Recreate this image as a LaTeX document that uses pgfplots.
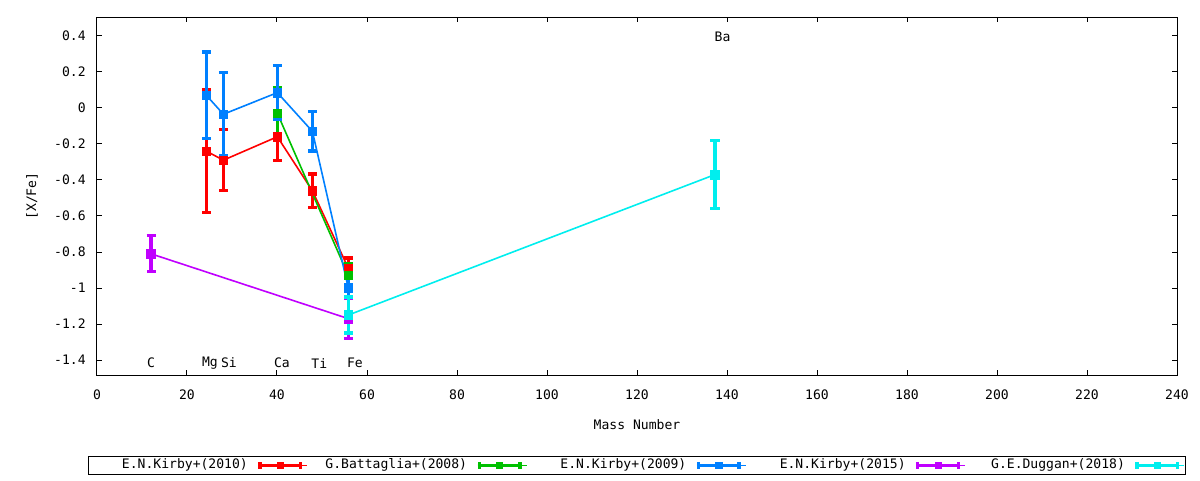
\documentclass[border=0pt]{standalone}
\usepackage{fontspec}
\setmainfont{DejaVu Sans Mono}
\usepackage{pgfplots}
\usepackage{pgfplotstable}
\pgfplotsset{compat=1.18}

\definecolor{gpred}{HTML}{FF0000}
\definecolor{gpgreen}{HTML}{00C000}
\definecolor{gpblue}{HTML}{0080FF}
\definecolor{gppurple}{HTML}{C000FF}
\definecolor{gpcyan}{HTML}{00EEEE}

% mass number, [X/Fe], error
\pgfplotstableread{
x y e
24.305 -0.24 0.34
28.086 -0.29 0.17
40.078 -0.16 0.13
47.867 -0.46 0.093
55.845 -0.89 0.057
}\kirbyten
\pgfplotstableread{
x y e
40.078 -0.03 0.14
55.845 -0.93 0.065
}\battaglia
\pgfplotstableread{
x y e
24.305 0.07 0.24
28.086 -0.035 0.23
40.078 0.085 0.15
47.867 -0.13 0.11
55.845 -1.0 0.06
}\kirbynine
\pgfplotstableread{
x y e
12.011 -0.81 0.10
55.845 -1.17 0.11
}\kirbyfifteen
\pgfplotstableread{
x y e
55.845 -1.15 0.10
137.33 -0.37 0.19
}\duggan

\pgfplotsset{
  gp/.style={
    color=#1, line width=1.2pt,
    mark=square*, mark size=3.2pt, mark options={solid, line width=0.5pt},
    error bars/.cd, y dir=both, y explicit,
    error bar style={line width=2.5pt},
    error mark options={rotate=90, line width=2.5pt, mark size=3.4pt},
  },
}

\begin{document}
\fontsize{9.8pt}{11.8pt}\selectfont
\begin{tikzpicture}
\path[use as bounding box] (-72.75pt,-78.75pt) rectangle (827.25pt,281.25pt);
\begin{axis}[
    at={(0pt,0pt)}, anchor=south west,
    scale only axis,
    width=810pt, height=268.5pt,
    xmin=0, xmax=240,
    ymin=-1.483, ymax=0.505,
    xtick={0,20,...,240},
    ytick={-1.4,-1.2,-1,-0.8,-0.6,-0.4,-0.2,0,0.2,0.4},
    /pgf/number format/assume math mode=true,
    axis line style={line width=0.75pt},
    every tick/.style={black, line width=0.75pt},
    major tick length=3.75pt,
    xticklabel style={yshift=-8pt},
    yticklabel style={xshift=-5pt},
    xlabel={Mass Number},
    ylabel={[X/Fe]},
    xlabel style={at={(axis description cs:0.5,-0.1397)}, anchor=center},
    ylabel style={at={(axis description cs:-0.0602,0.5)}, anchor=center},
    legend columns=5,
    legend plot pos=right,
    legend cell align=right,
    legend style={
      at={(axis description cs:0.5,-0.2263)}, anchor=north,
      draw=black, line width=0.75pt,
      inner xsep=0pt, inner ysep=0pt,
      column sep=0pt, row sep=0pt,
      nodes={inner xsep=0pt, inner ysep=2.5pt, text height=6.5pt, text depth=2pt},
    },
    legend image code/.code={
      \draw[#1, mark=none, line width=2.2pt] (0pt,0pt) -- (33pt,0pt);
      \draw[#1, mark=none, line width=2.5pt] (1.25pt,-2.6pt) -- (1.25pt,2.6pt) (31.75pt,-2.6pt) -- (31.75pt,2.6pt);
      \draw[#1, mark size=2.3pt] plot[only marks] coordinates {(16.5pt,0pt)};
      \path (0pt,0pt) -- (36.75pt,0pt);
    },
]
\addplot[gp=gpred] table[x=x, y=y, y error=e] {\kirbyten};
\addlegendentry{\makebox[126pt][r]{E.N.Kirby+(2010)\hspace*{6.75pt}}}
\addplot[gp=gpgreen] table[x=x, y=y, y error=e] {\battaglia};
\addlegendentry{\makebox[126pt][r]{G.Battaglia+(2008)\hspace*{6.75pt}}}
\addplot[gp=gpblue] table[x=x, y=y, y error=e] {\kirbynine};
\addlegendentry{\makebox[126pt][r]{E.N.Kirby+(2009)\hspace*{6.75pt}}}
\addplot[gp=gppurple] table[x=x, y=y, y error=e] {\kirbyfifteen};
\addlegendentry{\makebox[126pt][r]{E.N.Kirby+(2015)\hspace*{6.75pt}}}
\addplot[gp=gpcyan] table[x=x, y=y, y error=e] {\duggan};
\addlegendentry{\makebox[126pt][r]{G.E.Duggan+(2018)\hspace*{6.75pt}}}

\node[anchor=west, inner sep=0pt] at (axis cs:11.1,-1.417) {C};
\node[anchor=west, inner sep=0pt] at (axis cs:23.3,-1.417) {Mg};
\node[anchor=west, inner sep=0pt] at (axis cs:27.5,-1.417) {Si};
\node[anchor=west, inner sep=0pt] at (axis cs:39.3,-1.417) {Ca};
\node[anchor=west, inner sep=0pt] at (axis cs:47.6,-1.417) {Ti};
\node[anchor=west, inner sep=0pt] at (axis cs:55.5,-1.417) {Fe};
\node[anchor=west, inner sep=0pt] at (axis cs:137.2,0.394) {Ba};
\end{axis}
\end{tikzpicture}
\end{document}
